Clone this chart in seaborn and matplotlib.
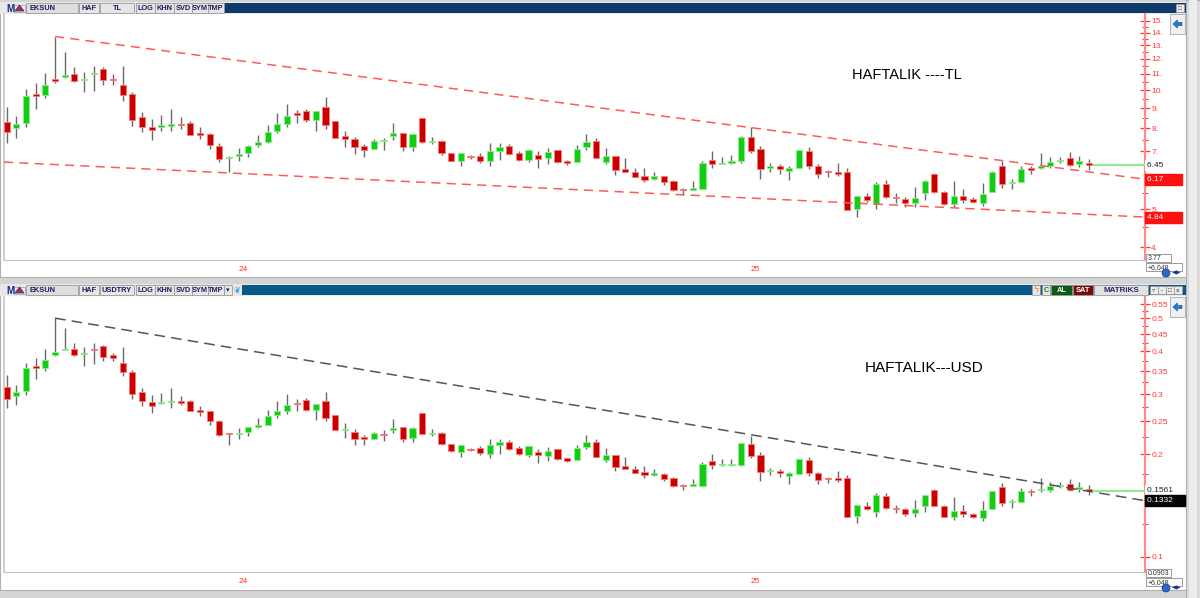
import numpy as np
import pandas as pd
import matplotlib
matplotlib.use("Agg")
import matplotlib.pyplot as plt
import matplotlib.transforms as mtransforms
from matplotlib.patches import Rectangle, Polygon
from matplotlib.ticker import NullFormatter
import seaborn as sns

# ---------------- data (weekly candles, EKSUN) ----------------
START_WEEK = "2023-07-17"

TL_OPEN = [8.30, 8.04, 8.28, 9.80, 9.73, 10.66, 10.80, 10.97, 10.60, 11.00,
           11.33, 10.68, 10.31, 9.78, 8.54, 8.05, 8.08, 8.13, 8.19, 8.25,
           7.78, 7.76, 7.24, 6.74, 6.82, 6.92, 7.27, 7.38, 7.88, 8.23,
           8.74, 8.87, 8.42, 9.05, 8.36, 7.66, 7.53, 7.22, 7.10, 7.43,
           7.67, 7.78, 7.20, 8.50, 7.38, 7.45, 6.95, 6.62, 6.79, 6.82,
           6.60, 7.02, 7.22, 6.95, 6.67, 6.85, 6.73, 7.06, 6.63, 6.56,
           7.17, 7.42, 6.58, 6.82, 6.32, 6.22, 6.06, 5.97, 6.05, 5.88,
           5.62, 5.60, 5.61, 6.66, 6.52, 6.55, 6.60, 7.62, 7.09, 6.37,
           6.42, 6.26, 6.35, 7.00, 6.43, 6.24, 6.22, 6.22, 5.00, 5.38,
           5.16, 5.80, 5.36, 5.31, 5.19, 5.48, 6.12, 5.53, 5.14, 5.40,
           5.31, 5.17, 5.51, 6.43, 5.82, 5.86, 6.34, 6.37, 6.43, 6.62,
           6.72, 6.51, 6.53]
TL_HIGH = [9.05, 8.60, 10.05, 10.45, 11.08, 13.68, 12.48, 11.43, 11.15, 11.50,
           11.43, 11.00, 11.52, 9.90, 8.83, 8.44, 8.64, 8.95, 8.55, 8.37,
           8.05, 7.78, 7.34, 6.81, 7.13, 7.27, 7.69, 8.16, 8.76, 9.22,
           8.91, 8.98, 8.87, 9.60, 8.37, 7.90, 7.60, 7.31, 7.51, 7.58,
           8.25, 7.78, 7.76, 8.52, 7.62, 7.48, 6.95, 6.95, 6.84, 6.92,
           7.33, 7.33, 7.29, 7.03, 7.09, 7.02, 7.13, 7.06, 6.66, 7.27,
           7.75, 7.58, 7.13, 6.82, 6.72, 6.34, 6.35, 6.22, 6.08, 5.94,
           5.66, 5.88, 6.62, 7.02, 6.79, 6.84, 7.65, 8.05, 7.22, 6.53,
           6.49, 6.43, 7.05, 7.18, 6.49, 6.28, 6.54, 6.36, 5.38, 5.50,
           5.86, 5.92, 5.48, 5.36, 5.68, 5.92, 6.18, 5.55, 5.88, 5.61,
           5.36, 5.83, 6.24, 6.62, 5.97, 6.43, 6.43, 6.92, 6.77, 6.79,
           6.96, 6.82, 6.70]
TL_LOW = [7.36, 7.56, 8.05, 8.98, 9.54, 10.42, 10.77, 10.50, 9.87, 9.98,
          10.31, 10.31, 9.39, 8.12, 7.82, 7.48, 7.90, 7.86, 7.99, 7.70,
          7.51, 7.09, 6.56, 6.19, 6.63, 6.78, 7.20, 7.34, 7.78, 8.05,
          8.28, 8.31, 7.90, 7.97, 7.56, 7.20, 6.88, 6.77, 7.09, 7.06,
          7.48, 7.02, 7.00, 7.37, 7.30, 6.85, 6.60, 6.41, 6.70, 6.53,
          6.43, 6.64, 6.84, 6.62, 6.58, 6.37, 6.49, 6.55, 6.46, 6.56,
          7.06, 6.72, 6.49, 6.10, 6.20, 6.02, 5.84, 5.92, 5.75, 5.55,
          5.43, 5.60, 5.61, 6.34, 6.51, 6.51, 6.55, 6.92, 5.97, 6.22,
          6.15, 5.92, 6.35, 6.31, 5.99, 6.03, 6.05, 4.97, 4.76, 5.22,
          4.99, 5.32, 5.17, 5.07, 5.05, 5.27, 5.50, 5.12, 5.05, 5.17,
          5.18, 5.09, 5.51, 5.66, 5.61, 5.86, 6.13, 6.31, 6.34, 6.53,
          6.41, 6.39, 6.28]
TL_CLOSE = [7.82, 8.21, 9.67, 9.65, 10.31, 10.55, 10.93, 10.56, 10.66, 11.05,
            10.60, 10.60, 9.71, 8.41, 8.08, 7.93, 8.15, 8.21, 8.15, 7.72,
            7.71, 7.27, 6.69, 6.78, 6.90, 7.22, 7.38, 7.82, 8.19, 8.60,
            8.66, 8.40, 8.86, 8.18, 7.58, 7.54, 7.17, 7.06, 7.45, 7.45,
            7.78, 7.17, 7.73, 7.38, 7.45, 6.92, 6.62, 6.94, 6.76, 6.60,
            7.00, 7.17, 6.88, 6.67, 7.06, 6.70, 6.96, 6.56, 6.53, 7.09,
            7.38, 6.72, 6.82, 6.28, 6.22, 6.04, 5.94, 6.06, 5.85, 5.59,
            5.58, 5.66, 6.53, 6.51, 6.54, 6.62, 7.62, 7.03, 6.31, 6.43,
            6.33, 6.37, 7.05, 6.43, 6.13, 6.20, 6.15, 4.97, 5.38, 5.26,
            5.78, 5.35, 5.33, 5.17, 5.34, 5.90, 5.52, 5.14, 5.38, 5.27,
            5.20, 5.47, 6.22, 5.78, 5.86, 6.31, 6.28, 6.43, 6.58, 6.66,
            6.47, 6.62, 6.45]

USD_OPEN = [0.314, 0.297, 0.306, 0.363, 0.358, 0.391, 0.404, 0.406, 0.392, 0.408,
            0.416, 0.390, 0.371, 0.349, 0.304, 0.284, 0.283, 0.284, 0.286, 0.286,
            0.269, 0.267, 0.250, 0.230, 0.229, 0.232, 0.241, 0.244, 0.260, 0.268,
            0.283, 0.288, 0.270, 0.286, 0.260, 0.236, 0.233, 0.224, 0.221, 0.229,
            0.236, 0.2409, 0.2229, 0.2640, 0.2292, 0.2307, 0.2138, 0.2024, 0.2070, 0.2079,
            0.2000, 0.2121, 0.2175, 0.2087, 0.1991, 0.2027, 0.1979, 0.2076, 0.1944, 0.1924,
            0.2103, 0.2170, 0.1924, 0.1994, 0.1843, 0.1813, 0.1767, 0.1735, 0.1754, 0.1699,
            0.1620, 0.1614, 0.1612, 0.1903, 0.1852, 0.1856, 0.1864, 0.2140, 0.1986, 0.1779,
            0.1783, 0.1729, 0.1745, 0.1918, 0.1757, 0.1705, 0.1699, 0.1699, 0.1316, 0.1412,
            0.1351, 0.1510, 0.1392, 0.1376, 0.1341, 0.1409, 0.1565, 0.1411, 0.1305, 0.1364,
            0.1334, 0.1296, 0.1378, 0.1603, 0.1444, 0.1447, 0.1562, 0.1565, 0.1572, 0.1615,
            0.1635, 0.1580, 0.1581]
USD_HIGH = [0.342, 0.318, 0.371, 0.384, 0.406, 0.501, 0.468, 0.425, 0.413, 0.423,
            0.419, 0.397, 0.413, 0.353, 0.313, 0.298, 0.303, 0.313, 0.296, 0.288,
            0.277, 0.268, 0.252, 0.230, 0.239, 0.240, 0.255, 0.270, 0.286, 0.300,
            0.290, 0.293, 0.281, 0.305, 0.260, 0.246, 0.237, 0.228, 0.232, 0.235,
            0.254, 0.2409, 0.2402, 0.2646, 0.2366, 0.2316, 0.2138, 0.2125, 0.2085, 0.2110,
            0.2221, 0.2215, 0.2196, 0.2111, 0.2116, 0.2077, 0.2097, 0.2076, 0.1953, 0.2132,
            0.2273, 0.2216, 0.2085, 0.1994, 0.1959, 0.1848, 0.1851, 0.1808, 0.1762, 0.1717,
            0.1631, 0.1695, 0.1902, 0.2006, 0.1929, 0.1938, 0.2161, 0.2261, 0.2022, 0.1824,
            0.1803, 0.1776, 0.1937, 0.1967, 0.1773, 0.1716, 0.1787, 0.1738, 0.1416, 0.1444,
            0.1534, 0.1542, 0.1423, 0.1389, 0.1468, 0.1522, 0.1581, 0.1416, 0.1492, 0.1417,
            0.1347, 0.1461, 0.1560, 0.1651, 0.1481, 0.1588, 0.1584, 0.1700, 0.1655, 0.1656,
            0.1693, 0.1655, 0.1622]
USD_LOW = [0.274, 0.279, 0.298, 0.332, 0.351, 0.388, 0.403, 0.388, 0.363, 0.368,
           0.376, 0.374, 0.338, 0.290, 0.277, 0.264, 0.281, 0.274, 0.279, 0.267,
           0.259, 0.244, 0.226, 0.212, 0.222, 0.226, 0.239, 0.244, 0.255, 0.263,
           0.268, 0.268, 0.252, 0.250, 0.236, 0.223, 0.212, 0.212, 0.221, 0.218,
           0.231, 0.2173, 0.2167, 0.2289, 0.2267, 0.2121, 0.2031, 0.1960, 0.2043, 0.1991,
           0.1948, 0.2006, 0.2060, 0.1988, 0.1964, 0.1885, 0.1909, 0.1926, 0.1894, 0.1924,
           0.2070, 0.1965, 0.1898, 0.1784, 0.1808, 0.1755, 0.1703, 0.1721, 0.1667, 0.1604,
           0.1565, 0.1614, 0.1612, 0.1811, 0.1849, 0.1844, 0.1850, 0.1944, 0.1672, 0.1737,
           0.1708, 0.1635, 0.1745, 0.1729, 0.1637, 0.1648, 0.1653, 0.1308, 0.1253, 0.1370,
           0.1306, 0.1385, 0.1343, 0.1313, 0.1305, 0.1355, 0.1407, 0.1306, 0.1282, 0.1306,
           0.1302, 0.1276, 0.1378, 0.1411, 0.1392, 0.1447, 0.1510, 0.1550, 0.1550, 0.1593,
           0.1560, 0.1551, 0.1521]
USD_CLOSE = [0.290, 0.305, 0.358, 0.358, 0.378, 0.399, 0.407, 0.391, 0.394, 0.405,
             0.386, 0.383, 0.349, 0.300, 0.286, 0.277, 0.285, 0.286, 0.283, 0.267,
             0.266, 0.250, 0.228, 0.229, 0.231, 0.240, 0.244, 0.258, 0.268, 0.279,
             0.281, 0.269, 0.281, 0.256, 0.236, 0.237, 0.221, 0.221, 0.231, 0.228,
             0.238, 0.2220, 0.2393, 0.2292, 0.2314, 0.2142, 0.2037, 0.2122, 0.2061, 0.2012,
             0.2121, 0.2166, 0.2072, 0.2003, 0.2107, 0.1982, 0.2047, 0.1929, 0.1915, 0.2079,
             0.2164, 0.1965, 0.1994, 0.1836, 0.1813, 0.1761, 0.1732, 0.1762, 0.1696, 0.1616,
             0.1608, 0.1631, 0.1876, 0.1860, 0.1858, 0.1875, 0.2153, 0.1975, 0.1768, 0.1796,
             0.1758, 0.1760, 0.1937, 0.1762, 0.1675, 0.1694, 0.1680, 0.1308, 0.1416, 0.1381,
             0.1513, 0.1393, 0.1384, 0.1339, 0.1380, 0.1517, 0.1412, 0.1311, 0.1365, 0.1331,
             0.1307, 0.1371, 0.1555, 0.1441, 0.1454, 0.1558, 0.1547, 0.1580, 0.1609, 0.1624,
             0.1574, 0.1607, 0.1561]

# trend lines: two anchor points each (candle index, price)
TL_UPPER_ANCHORS = [(5, 13.68), (115.3, 6.06)]
TL_LOWER_ANCHORS = [(0, 6.57), (76.3, 5.34)]
USD_UPPER_ANCHORS = [(5, 0.501), (117.8, 0.146)]

TL_YTICKS = [4, 5, 7, 8, 9, 10, 11, 12, 13, 14, 15]
TL_YTICK_LABELS = ["4.", "5.", "7.", "8.", "9.", "10.", "11.", "12.", "13.", "14.", "15."]
TL_MINOR = [4.5, 5.5, 6.5, 7.5, 8.5, 9.5, 10.5, 11.5, 12.5, 13.5, 14.5]
USD_YTICKS = [0.1, 0.2, 0.25, 0.3, 0.35, 0.4, 0.45, 0.5, 0.55]
USD_YTICK_LABELS = ["0.1", "0.2", "0.25", "0.3", "0.35", "0.4", "0.45", "0.5", "0.55"]
USD_MINOR = [0.125, 0.175, 0.225, 0.275, 0.325, 0.375, 0.425, 0.475, 0.525]

TL_TITLE = "HAFTALIK ----TL"
USD_TITLE = "HAFTALIK---USD"
TL_LAST, TL_UP_LBL, TL_LO_LBL, TL_MIN_LBL = "6.45", "6.17", "4.84", "3.77"
USD_LAST, USD_UP_LBL, USD_MIN_LBL = "0.1561", "0.1332", "0.0903"
CHANGE_LBL = "+6,048"

# ---------------- styling ----------------
sns.set_theme(style="white")
plt.rcParams['font.family'] = ['Liberation Sans', 'DejaVu Sans']

W, H = 1200, 598
fig = plt.figure(figsize=(12, 5.98), dpi=100)
fig.patch.set_facecolor('#d4d4d4')

bg = fig.add_axes([0, 0, 1, 1], zorder=0)
bg.set_xlim(0, W)
bg.set_ylim(H, 0)
bg.axis('off')

NAVY = '#1c1c5c'


def rect(x0, y0, x1, y1, fc, ec='none', lw=0.6, z=1):
    bg.add_patch(Rectangle((x0, y0), x1 - x0, y1 - y0, facecolor=fc,
                           edgecolor=ec, lw=lw, zorder=z))


def btn(x0, x1, y0, y1, text, fc='#e6e6e6', color=NAVY, size=5.3):
    rect(x0, y0, x1, y1, fc, '#9a9a9a', 0.6, 3)
    if text:
        bg.text((x0 + x1) / 2, (y0 + y1) / 2 + 0.3, text, ha='center', va='center',
                fontsize=size, color=color, fontweight='bold', zorder=4)


def toolbar(y0, y1, blue, second):
    rect(0, y0 - 1, 1186, y1 + 1, '#e8e8e8', 'none', 0, 2)
    rect(224 if not second else 242, y0, 1186, y1, blue, 'none', 0, 2)
    bg.text(10, (y0 + y1) / 2 + 0.5, "M", ha='center', va='center', fontsize=7,
            fontweight='bold', color='#1a2a8a', zorder=4)
    rect(14, y0 + 1.5, 25, y1 - 1.5, '#f2f2f2', '#9a9a9a', 0.5, 3)
    bg.add_patch(Polygon([[15, y1 - 2], [19.5, y0 + 2], [24, y1 - 2]], closed=True,
                         fc='#d42020', ec='#2040a0', lw=0.6, zorder=4))
    rect(26, y0, 78, y1, '#dedede', '#9a9a9a', 0.6, 3)
    bg.text(29, (y0 + y1) / 2 + 0.3, "EKSUN", ha='left', va='center', fontsize=5.3,
            fontweight='bold', color=NAVY, zorder=4)
    btn(79, 99, y0, y1, "HAF")
    btn(100, 134, y0, y1, "USDTRY" if second else "TL")
    btn(136, 155, y0, y1, "LOG")
    btn(155, 174, y0, y1, "KHN")
    btn(174, 192, y0, y1, "SVD")
    btn(192, 208, y0, y1, "SYM")
    btn(208, 224, y0, y1, "TMP")
    if second:
        btn(224, 232, y0, y1, "▾", size=5)
        bg.text(237, (y0 + y1) / 2, "\u2766", ha='center', va='center', fontsize=6,
                color='#3aa0e0', zorder=4, family='DejaVu Sans')
        rect(1032, y0, 1040, y1, '#e6e6e6', '#9a9a9a', 0.5, 3)
        bg.text(1036, (y0 + y1) / 2, "ϟ", ha='center', va='center', fontsize=6,
                color='#f08000', zorder=4, family='DejaVu Sans')
        btn(1042, 1050, y0, y1, "C", color='#108010')
        btn(1051, 1072, y0, y1, "AL", fc='#0d5a16', color='white')
        btn(1073, 1093, y0, y1, "SAT", fc='#7a0a0a', color='white')
        btn(1094, 1148, y0, y1, "MATRiKS", fc='#e2e2e2', color='#26266a', size=5.8)
        for i, xx in enumerate([1150, 1158, 1166, 1174]):
            btn(xx, xx + 8, y0 + 1, y1 - 1, ["▿", "-", "□", "x"][i], fc='#ececec',
                color='#555555', size=4.5)
    else:
        btn(1176, 1184, y0 + 1, y1 - 1, "□", fc='#ececec', color='#555555', size=4.5)


# panel backgrounds
rect(0, 13, 1186, 277, 'white', '#b0b0b0', 0.8, 1)
rect(0, 295, 1186, 590, 'white', '#b0b0b0', 0.8, 1)
rect(1186, 0, 1200, 598, '#dadada', '#a8a8a8', 0.6, 1)
rect(1189, 0, 1197, 598, '#ececec', 'none', 0, 1)
toolbar(3, 13, '#0e3a6a', False)
toolbar(285, 295, '#09588a', True)

for y0 in (14, 297):
    rect(1170, y0, 1185, y0 + 20, '#f0f0f0', '#a8a8a8', 0.6, 3)
    bg.add_patch(Polygon([[1173, y0 + 10], [1177.5, y0 + 6], [1177.5, y0 + 8.5],
                          [1182, y0 + 8.5], [1182, y0 + 11.5], [1177.5, y0 + 11.5],
                          [1177.5, y0 + 14]], closed=True, fc='#2a7ad8', ec='#1a5aa8',
                         lw=0.5, zorder=4))


def px_axes(x0, y0, x1, y1):
    return fig.add_axes([x0 / W, 1 - y1 / H, (x1 - x0) / W, (y1 - y0) / H], zorder=2)


dates = pd.date_range(START_WEEK, periods=len(TL_CLOSE), freq="7D")
year_idx = [i - 0.3 for i in range(1, len(dates)) if dates[i].year != dates[i - 1].year]
year_lbl = [str(dates[i].year)[2:] for i in range(1, len(dates))
            if dates[i].year != dates[i - 1].year]


def draw_candles(ax, o, h, l, c, minfrac):
    o, h, l, c = map(np.asarray, (o, h, l, c))
    x = np.arange(len(o))
    up = c >= o
    bot = np.minimum(o, c)
    top = np.maximum(np.maximum(o, c), bot * (1 + minfrac))
    ax.vlines(x, l, h, color='#6a6a6a', lw=1.0, zorder=2)
    ax.bar(x[up], (top - bot)[up], bottom=bot[up], width=0.64, color='#14cc14',
           edgecolor='#8af08a', lw=0.6, zorder=3)
    ax.bar(x[~up], (top - bot)[~up], bottom=bot[~up], width=0.64, color='#c80000',
           edgecolor='#ff7a7a', lw=0.6, zorder=3)


def trend(ax, anchors, xs, color, dash):
    (x0, v0), (x1, v1) = anchors
    k = (np.log(v1) - np.log(v0)) / (x1 - x0)
    xx = np.array(xs)
    yy = np.exp(np.log(v0) + k * (xx - x0))
    df = pd.DataFrame({"x": xx, "y": yy})
    sns.lineplot(data=df, x="x", y="y", ax=ax, color=color, lw=1.1,
                 linestyle=(0, dash), zorder=4, legend=False)
    return yy[-1]


def last_line(ax, closes, xr):
    df = pd.DataFrame({"x": [len(closes) - 0.6, xr], "y": [closes[-1]] * 2})
    sns.lineplot(data=df, x="x", y="y", ax=ax, color='#88ee88', lw=1.4, zorder=4,
                 legend=False)


def style_axes(ax, ylo, yhi, ticks, labels, minor, xr):
    ax.set_yscale('log')
    ax.set_ylim(ylo, yhi)
    ax.set_xlim(-0.28, xr)
    ax.set_facecolor('white')
    ax.yaxis.tick_right()
    ax.set_yticks(ticks, labels)
    ax.set_yticks(minor, minor=True)
    ax.yaxis.set_minor_formatter(NullFormatter())
    ax.tick_params(axis='y', which='major', direction='inout', length=7, width=0.9,
                   colors='#ff3b3b', labelsize=6, pad=1, right=True, left=False)
    ax.tick_params(axis='y', which='minor', direction='inout', length=4, width=0.8,
                   colors='#ff3b3b', right=True, left=False)
    ax.set_xticks(year_idx, year_lbl)
    ax.tick_params(axis='x', direction='out', length=14, width=0.9, color='#ff4040',
                   labelcolor='#ff3030', labelsize=6, pad=1)
    off = mtransforms.ScaledTranslation(3 / 100, 15 / 100, fig.dpi_scale_trans)
    for t in ax.get_xticklabels():
        t.set_ha('left')
        t.set_transform(t.get_transform() + off)
    ax.set_xlabel('')
    ax.set_ylabel('')
    ax.spines['top'].set_visible(False)
    ax.spines['right'].set_color('#ff8a8a')
    ax.spines['right'].set_linewidth(1.6)
    ax.spines['left'].set_color('#c8c8c8')
    ax.spines['bottom'].set_color('#c0c0c0')
    ax.spines['bottom'].set_linewidth(0.8)


def side_label(ax, v, text, fc, tc):
    tr = mtransforms.blended_transform_factory(ax.transAxes, ax.transData)
    ax.text(1.002, v, text, transform=tr, ha='left', va='center', fontsize=6,
            color=tc, clip_on=False, zorder=6,
            bbox=dict(boxstyle='square,pad=0.25', fc=fc, ec=fc if fc != 'white' else 'none'))


XR = 117.8
# ---------- top panel (TL) ----------
ax1 = px_axes(4, 14, 1145, 260)
draw_candles(ax1, TL_OPEN, TL_HIGH, TL_LOW, TL_CLOSE, 0.006)
up_end = trend(ax1, TL_UPPER_ANCHORS, np.linspace(5, XR, 50), '#ff5a5a', (6, 4))
lo_end = trend(ax1, TL_LOWER_ANCHORS, np.linspace(-0.28, XR, 50), '#ff5a5a', (6, 4))
last_line(ax1, TL_CLOSE, XR)
style_axes(ax1, 3.714, 15.6, TL_YTICKS, TL_YTICK_LABELS, TL_MINOR, XR)
side_label(ax1, TL_CLOSE[-1], TL_LAST + "  ", 'white', '#222222')
side_label(ax1, up_end, TL_UP_LBL + "       ", '#ff1010', 'white')
side_label(ax1, lo_end, TL_LO_LBL + "       ", '#ff1010', 'white')
ax1.text(0.743, 0.752, TL_TITLE, transform=ax1.transAxes, fontsize=10.5, color='black',
         ha='left', va='center')

# ---------- bottom panel (USD) ----------
ax2 = px_axes(4, 297, 1145, 572)
draw_candles(ax2, USD_OPEN, USD_HIGH, USD_LOW, USD_CLOSE, 0.007)
u_end = trend(ax2, USD_UPPER_ANCHORS, np.linspace(5, XR, 50), '#555555', (7, 4))
last_line(ax2, USD_CLOSE, XR)
style_axes(ax2, 0.0902, 0.578, USD_YTICKS, USD_YTICK_LABELS, USD_MINOR, XR)
side_label(ax2, USD_CLOSE[-1], USD_LAST + " ", 'white', '#222222')
side_label(ax2, u_end, USD_UP_LBL + "    ", '#050505', 'white')
ax2.text(0.754, 0.74, USD_TITLE, transform=ax2.transAxes, fontsize=11, color='black',
         ha='left', va='center')

# bottom-right info boxes
for (yb, txt) in ((254, TL_MIN_LBL), (569, USD_MIN_LBL)):
    rect(1146, yb, 1171, yb + 8, 'white', '#8a8a8a', 0.6, 5)
    bg.text(1148, yb + 4.3, txt, fontsize=5, color='#333333', va='center', zorder=6)
    rect(1146, yb + 9, 1182, yb + 17, 'white', '#8a8a8a', 0.6, 5)
    bg.text(1148, yb + 13.3, CHANGE_LBL, fontsize=5, color='#333333', va='center', zorder=6)
    bg.add_patch(plt.Circle((1166, yb + 19), 4, fc='#2a6ad0', ec='#103a80', lw=0.5, zorder=7))
    bg.text(1177, yb + 19, "◀▶", fontsize=4.5, color='#1a3a9a', ha='center', va='center',
            zorder=7, family='DejaVu Sans')

fig.savefig("out.png", dpi=100, facecolor=fig.get_facecolor())
